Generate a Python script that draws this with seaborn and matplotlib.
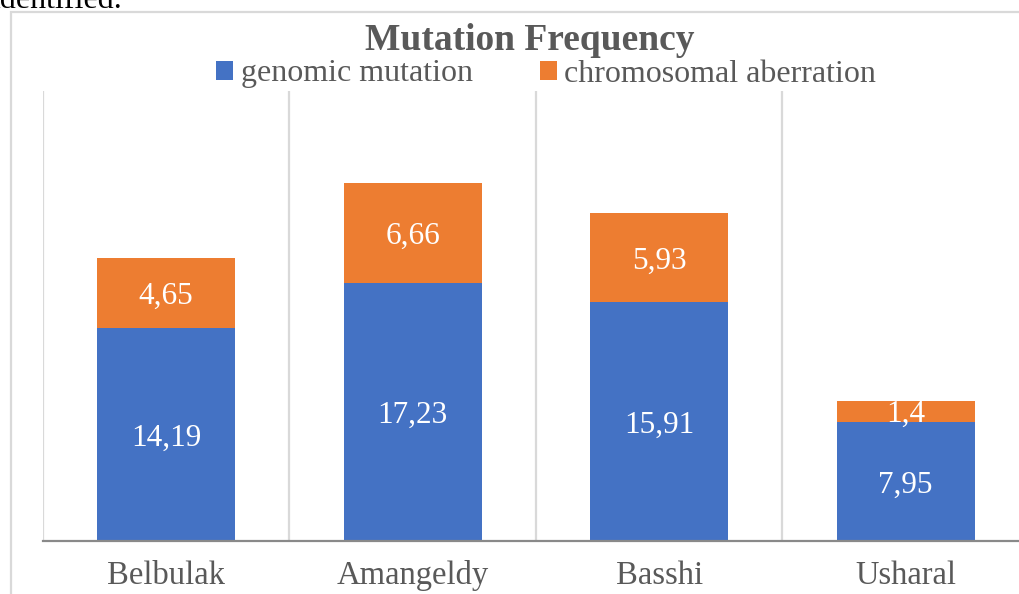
import matplotlib
matplotlib.use("Agg")
import matplotlib.pyplot as plt
from matplotlib.patches import Rectangle, Patch
import seaborn as sns
import pandas as pd

categories = ["Belbulak", "Amangeldy", "Basshi", "Usharal"]
genomic = [14.19, 17.23, 15.91, 7.95]
chromosomal = [4.65, 6.66, 5.93, 1.4]
series_names = ["genomic mutation", "chromosomal aberration"]
title = "Mutation Frequency"

BLUE = "#4472C4"
ORANGE = "#ED7D31"
GRAY = "#595959"

sns.set_theme(style="white")
plt.rcParams["font.family"] = ["Liberation Serif", "DejaVu Serif"]

df = pd.DataFrame({"cat": categories, "genomic": genomic, "chrom": chromosomal})
df["total"] = df["genomic"] + df["chrom"]

fig = plt.figure(figsize=(10.2, 5.94), dpi=100)
ax = fig.add_axes([43 / 1020, 53 / 594, 986 / 1020, 450 / 594])

sns.barplot(data=df, x="cat", y="total", color=ORANGE, width=0.56, ax=ax,
            saturation=1, edgecolor="none")
sns.barplot(data=df, x="cat", y="genomic", color=BLUE, width=0.56, ax=ax,
            saturation=1, edgecolor="none")

ax.set_xlim(-0.5, len(categories) - 0.5)
ax.set_ylim(0, 30)
ax.set_xlabel("")
ax.set_ylabel("")
ax.set_yticks([])
for s in ["top", "right", "left"]:
    ax.spines[s].set_visible(False)
ax.spines["bottom"].set_color("#898989")
ax.spines["bottom"].set_linewidth(1.6)
for b in range(len(categories) + 1):
    ax.axvline(b - 0.5, color="#d9d9d9", lw=1.6, zorder=0)
ax.tick_params(axis="x", length=0, pad=14, labelsize=23.5, labelcolor=GRAY)

for i, (g, c) in enumerate(zip(genomic, chromosomal)):
    ax.text(i, g / 2, f"{g:g}".replace(".", ","), ha="center", va="center_baseline",
            color="white", fontsize=22.5)
    ax.text(i, g + c / 2, f"{c:g}".replace(".", ","), ha="center", va="center_baseline",
            color="white", fontsize=22.5)

fig.text(530 / 1020, 1 - 40 / 594, title, ha="center", va="center",
         fontsize=27, fontweight="bold", color=GRAY)

handles = [Patch(facecolor=BLUE, edgecolor="none"), Patch(facecolor=ORANGE, edgecolor="none")]
fig.legend(handles, series_names, loc="center", bbox_to_anchor=(546 / 1020, 1 - 74 / 594),
           ncol=2, frameon=False, fontsize=23, labelcolor=GRAY,
           handlelength=0.55, handleheight=0.55, handletextpad=0.22, columnspacing=2.1,
           borderaxespad=0, borderpad=0)

fig.patches.append(Rectangle((11 / 1020, -0.1), 1.2, 1 - 12 / 594 + 0.1,
                             transform=fig.transFigure, fill=False,
                             edgecolor="#d9d9d9", lw=1.6))
fig.text(-9 / 1020, 1 - 1 / 594, "identified.", ha="left", va="center",
         fontsize=23, color="black")

fig.savefig("out.png", dpi=100)
